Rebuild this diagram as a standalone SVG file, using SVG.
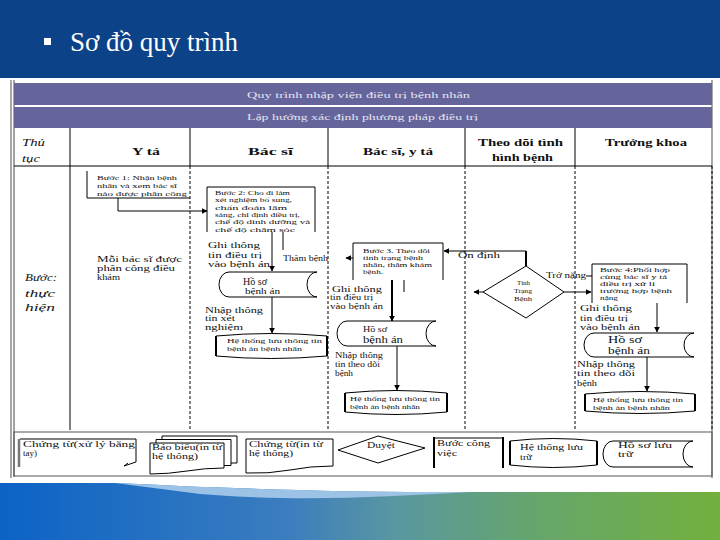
<svg xmlns="http://www.w3.org/2000/svg" width="720" height="540" viewBox="0 0 720 540">
<defs>
<style>
.t{font-family:"Liberation Serif","DejaVu Serif",serif;fill:#111}
.h{font-weight:bold;font-size:10.5px}
.i{font-style:italic;font-size:11px}
.s6{font-size:6.5px}
.s7{font-size:7px}
.s8{font-size:8px}
.s85{font-size:8.5px}
.s9{font-size:9px}
.s10{font-size:9.5px}
.ln{stroke:#000;stroke-width:1;fill:none}
.lane{stroke:#000;stroke-width:1;stroke-dasharray:3 2;fill:none}
.sh{fill:#fff;stroke:#000;stroke-width:1}
.thick{stroke:#000;stroke-width:2;fill:none}
.conn{stroke:#000;stroke-width:1;fill:none;marker-end:url(#ah)}
.connb{stroke:#000;stroke-width:2;fill:none;marker-end:url(#ah)}
.bar{fill:#65649b}
.bt{font-family:"Liberation Serif","DejaVu Serif",serif;font-size:8.5px;fill:#e4e4f2}
</style>
<marker id="ah" viewBox="0 0 10 10" refX="9" refY="5" markerWidth="6" markerHeight="6" markerUnits="userSpaceOnUse" orient="auto">
<path d="M0,0 L10,5 L0,10 Z" fill="#000"/>
</marker>
<linearGradient id="band" x1="0" y1="0" x2="1" y2="0">
<stop offset="0" stop-color="#0b63c6"/>
<stop offset="0.4" stop-color="#3b7dbf"/>
<stop offset="0.55" stop-color="#5a97a0"/>
<stop offset="0.75" stop-color="#66a66a"/>
<stop offset="1" stop-color="#73b03e"/>
</linearGradient>
</defs>
<rect width="720" height="540" fill="#fff"/>
<g id="header">
<rect x="0" y="0" width="720" height="78" fill="#0c4287"/>
<rect x="44" y="38" width="7" height="7" fill="#fff"/>
<text x="70" y="51" style="font-family:'Liberation Serif',serif;font-size:27px;fill:#fff">Sơ đồ quy trình</text>
</g>
<g id="band">
<rect x="0" y="483" width="720" height="57" fill="url(#band)"/>
<path d="M115,483 L720,483 L720,492 L430,492 C330,492 220,488 115,483 Z" fill="#fff"/>
<path d="M115,483 C220,488 330,492 430,492 L470,492 C380,497 300,502 200,494 Z" fill="#9cc2e6"/>
</g>
<g id="frame">
<line x1="11" y1="80" x2="11" y2="478" stroke="#888" stroke-width="1.5"/>
<line x1="14" y1="80" x2="14" y2="477" stroke="#444" stroke-width="1"/>
<line x1="712" y1="80" x2="712" y2="478" stroke="#888" stroke-width="1.5"/>
<rect class="bar" x="14" y="83" width="698" height="22"/>
<rect class="bar" x="14" y="107" width="698" height="21"/>
<text class="bt" x="247" y="98" textLength="223" lengthAdjust="spacingAndGlyphs">Quy trình nhập viện điều trị bệnh nhân</text>
<text class="bt" x="247" y="120" textLength="231" lengthAdjust="spacingAndGlyphs">Lập hướng xác định phương pháp điều trị</text>
<line class="ln" x1="14" y1="166" x2="712" y2="166"/>
<path class="ln" d="M70,128 V430 M190,128 V166 M328,128 V166 M465,128 V166 M575,128 V166"/>
<path class="lane" d="M190,166 V430 M328,166 V430 M465,166 V430 M575,166 V430 M712,166 V430"/>
<rect x="14" y="432" width="698" height="44" fill="none" stroke="#555" stroke-width="1"/>
</g>
<g id="col-headers">
<text class="t i" x="22" y="146" textLength="23" lengthAdjust="spacingAndGlyphs">Thủ</text>
<text class="t i" x="22" y="162" textLength="18" lengthAdjust="spacingAndGlyphs">tục</text>
<text class="t h" x="132" y="155" textLength="28" lengthAdjust="spacingAndGlyphs">Y tá</text>
<text class="t h" x="248" y="155" textLength="45" lengthAdjust="spacingAndGlyphs">Bác sĩ</text>
<text class="t h" x="363" y="155" textLength="70" lengthAdjust="spacingAndGlyphs">Bác sĩ, y tá</text>
<text class="t h" x="478" y="146" textLength="85" lengthAdjust="spacingAndGlyphs">Theo dõi tình</text>
<text class="t h" x="492" y="161" textLength="61" lengthAdjust="spacingAndGlyphs">hình bệnh</text>
<text class="t h" x="605" y="146" textLength="82" lengthAdjust="spacingAndGlyphs">Trưởng khoa</text>
<text class="t i" x="25" y="281" textLength="32" lengthAdjust="spacingAndGlyphs">Bước:</text>
<text class="t i" x="25" y="297" textLength="30" lengthAdjust="spacingAndGlyphs">thực</text>
<text class="t i" x="25" y="311" textLength="30" lengthAdjust="spacingAndGlyphs">hiện</text>
</g>
<g id="connectors">
<path class="conn" d="M118,198 V211 H207"/>
<path class="conn" d="M272,232 V271"/>
<path class="ln" d="M283,232 V250"/>
<path class="conn" d="M353,258 H346"/>
<path class="conn" d="M272,297 V333"/>
<path class="connb" d="M392,280 V321"/>
<path class="ln" d="M404,280 V292"/>
<path class="thick" d="M526,266 V251"/>
<path class="conn" d="M526,251 H444"/>
<path class="conn" d="M483,292 H474"/>
<path class="conn" d="M564,292 H591"/>
<path class="ln" d="M586,276 H592"/>
<path class="conn" d="M657,303 V332"/>
<path class="conn" d="M397,346 V390"/>
<path class="conn" d="M647,357 V391"/>
</g>
<g id="buoc1">
<path class="ln" d="M87,171 V198 H190"/>
<text class="t s7" x="97" y="180" textLength="80" lengthAdjust="spacingAndGlyphs">Bước 1: Nhận bệnh</text>
<text class="t s7" x="97" y="188" textLength="80" lengthAdjust="spacingAndGlyphs">nhân và xem bác sĩ</text>
<text class="t s7" x="97" y="196" textLength="90" lengthAdjust="spacingAndGlyphs">nào được phân công</text>
</g>
<g id="phan-cong">
<text class="t s9" x="97" y="262" textLength="85" lengthAdjust="spacingAndGlyphs">Mỗi bác sĩ được</text>
<text class="t s9" x="97" y="271" textLength="78" lengthAdjust="spacingAndGlyphs">phân công điều</text>
<text class="t s9" x="97" y="280" textLength="23" lengthAdjust="spacingAndGlyphs">khám</text>
</g>
<g id="buoc2">
<path class="ln" d="M207,232 V187 H315 V232"/>
<text class="t s6" x="215" y="195" textLength="75" lengthAdjust="spacingAndGlyphs">Bước 2: Cho đi làm</text>
<text class="t s6" x="215" y="202" textLength="77" lengthAdjust="spacingAndGlyphs">xét nghiệm bổ sung,</text>
<text class="t s6" x="215" y="209.5" textLength="72" lengthAdjust="spacingAndGlyphs">chẩn đoán lâm</text>
<text class="t s6" x="215" y="216.5" textLength="85" lengthAdjust="spacingAndGlyphs">sàng, chỉ định điều trị,</text>
<text class="t s6" x="215" y="224" textLength="95" lengthAdjust="spacingAndGlyphs">chế độ dinh dưỡng và</text>
<text class="t s6" x="215" y="231.5" textLength="80" lengthAdjust="spacingAndGlyphs">chế độ chăm sóc</text>
</g>
<g id="ghi1">
<text class="t s8" x="208" y="248" textLength="52" lengthAdjust="spacingAndGlyphs">Ghi thông</text>
<text class="t s8" x="208" y="257.5" textLength="54" lengthAdjust="spacingAndGlyphs">tin điều trị</text>
<text class="t s9" x="208" y="267" textLength="62" lengthAdjust="spacingAndGlyphs">vào bệnh án</text>
<text class="t s85" x="283" y="261" textLength="45" lengthAdjust="spacingAndGlyphs">Thăm bệnh</text>
</g>
<g id="hoso1">
<path class="sh" d="M229,272 H317 A10,12.5 0 0 0 317,297 H229 A10,12.5 0 0 1 229,272 Z"/>
<text class="t s10" x="243" y="285" textLength="24" lengthAdjust="spacingAndGlyphs">Hồ sơ</text>
<text class="t s8" x="245" y="294" textLength="35" lengthAdjust="spacingAndGlyphs">bệnh án</text>
</g>
<g id="nhap1">
<text class="t s8" x="205" y="313" textLength="58" lengthAdjust="spacingAndGlyphs">Nhập thông</text>
<text class="t s8" x="205" y="321" textLength="30" lengthAdjust="spacingAndGlyphs">tin xét</text>
<text class="t s8" x="205" y="330" textLength="38" lengthAdjust="spacingAndGlyphs">nghiệm</text>
</g>
<g id="htl1">
<path class="sh" d="M216,336 Q271,331 327,336 V356 Q271,361 216,356 Z"/>
<path class="thick" d="M216,336 V356 M327,336 V356"/>
<text class="t s7" x="227" y="343" textLength="95" lengthAdjust="spacingAndGlyphs">Hệ thống lưu thông tin</text>
<text class="t s7" x="227" y="351" textLength="75" lengthAdjust="spacingAndGlyphs">bệnh án bệnh nhân</text>
</g>
<g id="buoc3">
<path class="ln" d="M353,280 V243 H443 V280"/>
<text class="t s6" x="363" y="252.5" textLength="67" lengthAdjust="spacingAndGlyphs">Bước 3. Theo dõi</text>
<text class="t s6" x="363" y="259.5" textLength="60" lengthAdjust="spacingAndGlyphs">tình trạng bệnh</text>
<text class="t s6" x="363" y="266.5" textLength="69" lengthAdjust="spacingAndGlyphs">nhân, thăm khám</text>
<text class="t s6" x="363" y="273.5" textLength="20" lengthAdjust="spacingAndGlyphs">bệnh.</text>
</g>
<g id="ghi2">
<text class="t s8" x="332" y="291.5" textLength="50" lengthAdjust="spacingAndGlyphs">Ghi thông</text>
<text class="t s8" x="330" y="300" textLength="43" lengthAdjust="spacingAndGlyphs">tin điều trị</text>
<text class="t s9" x="330" y="309" textLength="53" lengthAdjust="spacingAndGlyphs">vào bệnh án</text>
</g>
<g id="hoso2">
<path class="sh" d="M347,321 H436 A10,12.5 0 0 0 436,346 H347 A10,12.5 0 0 1 347,321 Z"/>
<text class="t s9" x="363" y="332" textLength="24" lengthAdjust="spacingAndGlyphs">Hồ sơ</text>
<text class="t s10" x="363" y="343" textLength="40" lengthAdjust="spacingAndGlyphs">bệnh án</text>
</g>
<g id="nhap2">
<text class="t s8" x="335" y="358" textLength="48" lengthAdjust="spacingAndGlyphs">Nhập thông</text>
<text class="t s8" x="335" y="367" textLength="45" lengthAdjust="spacingAndGlyphs">tin theo dõi</text>
<text class="t s8" x="335" y="376" textLength="18" lengthAdjust="spacingAndGlyphs">bệnh</text>
</g>
<g id="htl2">
<path class="sh" d="M345,393 Q396,388 447,393 V412 Q396,417 345,412 Z"/>
<path class="thick" d="M345,393 V412 M447,393 V412"/>
<text class="t s7" x="350" y="401" textLength="90" lengthAdjust="spacingAndGlyphs">Hệ thống lưu thông tin</text>
<text class="t s7" x="350" y="409" textLength="70" lengthAdjust="spacingAndGlyphs">bệnh án bệnh nhân</text>
</g>
<g id="ondinh">
<text class="t s9" x="458" y="258" textLength="42" lengthAdjust="spacingAndGlyphs">Ổn định</text>
</g>
<g id="tinhtrang">
<path class="sh" d="M526,266 L564,292 L526,318 L483,292 Z"/>
<text class="t s7" x="517" y="285" textLength="13" lengthAdjust="spacingAndGlyphs">Tình</text>
<text class="t s7" x="514" y="293" textLength="18" lengthAdjust="spacingAndGlyphs">Trạng</text>
<text class="t s7" x="514" y="301" textLength="18" lengthAdjust="spacingAndGlyphs">Bệnh</text>
<text class="t s8" x="546" y="278" textLength="40" lengthAdjust="spacingAndGlyphs">Trở nặng</text>
</g>
<g id="buoc4">
<path class="ln" d="M592,303 V264 H687 V303"/>
<text class="t s6" x="600" y="272" textLength="70" lengthAdjust="spacingAndGlyphs">Bước 4:Phối hợp</text>
<text class="t s6" x="600" y="279" textLength="67" lengthAdjust="spacingAndGlyphs">cùng bác sĩ y tá</text>
<text class="t s6" x="600" y="286" textLength="55" lengthAdjust="spacingAndGlyphs">điều trị xử lí</text>
<text class="t s6" x="600" y="293" textLength="72" lengthAdjust="spacingAndGlyphs">trường hợp bệnh</text>
<text class="t s6" x="600" y="300" textLength="18" lengthAdjust="spacingAndGlyphs">nặng</text>
</g>
<g id="ghi3">
<text class="t s8" x="580" y="311" textLength="52" lengthAdjust="spacingAndGlyphs">Ghi thông</text>
<text class="t s8" x="580" y="320.5" textLength="48" lengthAdjust="spacingAndGlyphs">tin điều trị</text>
<text class="t s8" x="580" y="330" textLength="60" lengthAdjust="spacingAndGlyphs">vào bệnh án</text>
</g>
<g id="hoso3">
<path class="sh" d="M594,333 H694 A10,12 0 0 0 694,357 H594 A10,12 0 0 1 594,333 Z"/>
<text class="t s10" x="608" y="343" textLength="34" lengthAdjust="spacingAndGlyphs">Hồ sơ</text>
<text class="t s10" x="608" y="354" textLength="42" lengthAdjust="spacingAndGlyphs">bệnh án</text>
</g>
<g id="nhap3">
<text class="t s85" x="577" y="367" textLength="58" lengthAdjust="spacingAndGlyphs">Nhập thông</text>
<text class="t s85" x="577" y="376" textLength="58" lengthAdjust="spacingAndGlyphs">tin theo dõi</text>
<text class="t s85" x="577" y="386" textLength="20" lengthAdjust="spacingAndGlyphs">bệnh</text>
</g>
<g id="htl3">
<path class="sh" d="M585,394 Q640,389 695,394 V411 Q640,416 585,411 Z"/>
<path class="thick" d="M585,394 V411 M695,394 V411"/>
<text class="t s7" x="593" y="402" textLength="90" lengthAdjust="spacingAndGlyphs">Hệ thống lưu thông tin</text>
<text class="t s7" x="593" y="410" textLength="77" lengthAdjust="spacingAndGlyphs">bệnh án bệnh nhân</text>
</g>
<g id="legend-chungtu-tay">
<path class="ln" d="M136,439 V462"/>
<path class="ln" d="M20,439 H136"/>
<path d="M19,439 V467" stroke="#777" stroke-width="2.5"/>
<path class="ln" d="M136,462 L124,466 M124,466 L128,463"/>
<text class="t s9" x="23" y="447" textLength="112" lengthAdjust="spacingAndGlyphs">Chứng  từ(xử  lý  bằng</text>
<text class="t s9" x="23" y="456" textLength="14" lengthAdjust="spacingAndGlyphs">tay)</text>
</g>
<g id="legend-baobieu">
<path class="sh" d="M162,436 H237 V463 H162 Z"/>
<path class="sh" d="M156,439.5 H231 V465.5 H156 Z"/>
<path class="sh" d="M150,443 H224 V468 Q205,468 187,471 Q168,474 150,474 Z"/>
<text class="t s9" x="152" y="450" textLength="70" lengthAdjust="spacingAndGlyphs">Báo biểu(in từ</text>
<text class="t s9" x="152" y="459" textLength="46" lengthAdjust="spacingAndGlyphs">hệ thống)</text>
</g>
<g id="legend-chungtu-ht">
<path class="sh" d="M246,439 H333 V466 Q310,466 290,470 Q268,474 246,473 Z"/>
<text class="t s9" x="249" y="447" textLength="74" lengthAdjust="spacingAndGlyphs">Chứng từ(in từ</text>
<text class="t s9" x="249" y="456" textLength="44" lengthAdjust="spacingAndGlyphs">hệ thống)</text>
</g>
<g id="legend-duyet">
<path class="sh" d="M338,450 L378,436 L425,448 L378,463 Z" stroke-width="0.8"/>
<text class="t s9" x="367" y="448" textLength="28" lengthAdjust="spacingAndGlyphs">Duyệt</text>
</g>
<g id="legend-buoc">
<path class="ln" d="M434,438 H503"/>
<path class="thick" d="M434,437 V468 M503,437 V468"/>
<text class="t s9" x="437" y="446" textLength="53" lengthAdjust="spacingAndGlyphs">Bước  công</text>
<text class="t s9" x="437" y="456" textLength="20" lengthAdjust="spacingAndGlyphs">việc</text>
</g>
<g id="legend-htlt">
<path class="sh" d="M510,441 Q553,436 597,441 V465 Q553,470 510,465 Z"/>
<path class="thick" d="M510,441 V465 M597,441 V465"/>
<text class="t s8" x="520" y="450" textLength="63" lengthAdjust="spacingAndGlyphs">Hệ thống lưu</text>
<text class="t s8" x="520" y="460" textLength="12" lengthAdjust="spacingAndGlyphs">trữ</text>
</g>
<g id="legend-hoso">
<path class="sh" d="M613,441 H693 A10,13 0 0 0 693,467 H613 A10,13 0 0 1 613,441 Z"/>
<text class="t s9" x="618" y="448" textLength="54" lengthAdjust="spacingAndGlyphs">Hồ sơ lưu</text>
<text class="t s9" x="618" y="457" textLength="15" lengthAdjust="spacingAndGlyphs">trữ</text>
</g>
</svg>
